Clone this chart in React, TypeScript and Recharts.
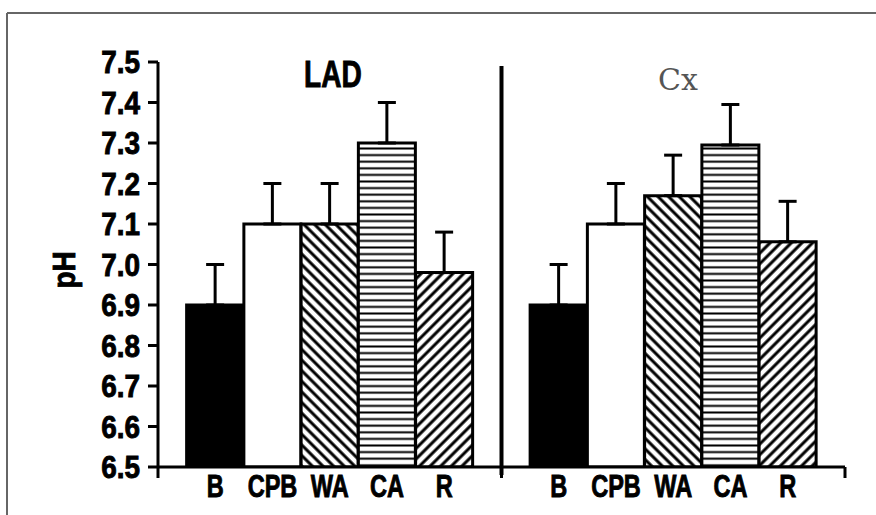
import React from "react";
import {
  BarChart,
  Bar,
  XAxis,
  YAxis,
  Cell,
  ErrorBar,
  ReferenceLine,
  Customized,
} from "recharts";

// groups and bar categories
const groups = ["LAD", "Cx"];
const categories = ["B", "CPB", "WA", "CA", "R"];

// pH means and SEM (upper bar only)
const ladValues = [6.9, 7.1, 7.1, 7.3, 6.98];
const ladErrors = [0.1, 0.1, 0.1, 0.1, 0.1];
const cxValues = [6.9, 7.1, 7.17, 7.295, 7.056];
const cxErrors = [0.1, 0.1, 0.1, 0.1, 0.1];

const yTicks = [6.5, 6.6, 6.7, 6.8, 6.9, 7.0, 7.1, 7.2, 7.3, 7.4, 7.5];

const fills = ["#000", "#fff", "url(#hatchBack)", "url(#hatchHoriz)", "url(#hatchFwd)"];

// slots: 0.5 pad, 5 LAD bars, 1 gap, 5 Cx bars, 0.5 pad
const data = [
  ...categories.map((c, i) => ({
    pos: i + 1,
    cat: c,
    value: ladValues[i],
    err: [0, ladErrors[i]],
  })),
  ...categories.map((c, i) => ({
    pos: i + 7,
    cat: c,
    value: cxValues[i],
    err: [0, cxErrors[i]],
  })),
];

const xTicks = [0, 1, 2, 3, 4, 5, 6, 7, 8, 9, 10, 11, 12];
const boundaryTicks = [0, 6, 12];

// no condensed font installed, so squeeze Liberation Sans bold and thicken it a bit
const heavyFont = "'Liberation Sans', Arial, sans-serif";
const heavyText = {
  fontFamily: heavyFont,
  fontWeight: "bold" as const,
  fill: "#000",
  stroke: "#000",
  strokeWidth: 0.9,
};

const XTick = ({ x, y, payload }: any) => {
  const v = payload.value;
  if (boundaryTicks.includes(v)) {
    return <line x1={x} y1={y} x2={x} y2={y + 11} stroke="#000" strokeWidth={3} />;
  }
  const entry = data.find((d) => d.pos === v);
  return (
    <text
      transform={`translate(${x},${y + 30}) scale(0.76,1)`}
      textAnchor="middle"
      fontSize={31}
      {...heavyText}
    >
      {entry ? entry.cat : ""}
    </text>
  );
};

const YTick = ({ x, y, payload }: any) => (
  <text
    transform={`translate(${x},${y}) scale(0.9,1)`}
    textAnchor="end"
    dy="0.36em"
    fontSize={31}
    {...heavyText}
  >
    {Number(payload.value).toFixed(1)}
  </text>
);

const Decorations = () => (
  <g>
    {/* frame of the scanned figure */}
    <line x1={7} y1={13} x2={876} y2={13} stroke="#666" strokeWidth={2} />
    <line x1={7} y1={13} x2={7} y2={515} stroke="#666" strokeWidth={2} />
    <text transform="translate(333,87) scale(0.76,1)" textAnchor="middle" fontSize={37} {...heavyText}>
      {groups[0]}
    </text>
    <text
      x={678}
      y={90}
      textAnchor="middle"
      fontFamily="'DejaVu Serif', 'Liberation Serif', serif"
      fontSize={30}
      fill="#555"
    >
      {groups[1]}
    </text>
    <text
      transform="translate(64,270) rotate(-90) scale(0.9,1)"
      textAnchor="middle"
      dominantBaseline="central"
      fontSize={31}
      {...heavyText}
    >
      pH
    </text>
  </g>
);

export default function App() {
  return (
    <div style={{ position: "absolute", left: 0, top: 0, width: 876, height: 515, background: "#fff" }}>
      <BarChart
        width={876}
        height={515}
        data={data}
        margin={{ top: 62, right: 31, bottom: 0, left: 0 }}
      >
        <defs>
          <pattern id="hatchBack" patternUnits="userSpaceOnUse" width={7.5} height={7.5} patternTransform="rotate(-45)">
            <rect width={7.5} height={7.5} fill="#fff" />
            <line x1={3.75} y1={0} x2={3.75} y2={7.5} stroke="#000" strokeWidth={3} />
          </pattern>
          <pattern id="hatchFwd" patternUnits="userSpaceOnUse" width={7.5} height={7.5} patternTransform="rotate(45)">
            <rect width={7.5} height={7.5} fill="#fff" />
            <line x1={3.75} y1={0} x2={3.75} y2={7.5} stroke="#000" strokeWidth={3} />
          </pattern>
          <pattern id="hatchHoriz" patternUnits="userSpaceOnUse" width={10} height={6.6}>
            <rect width={10} height={6.6} fill="#fff" />
            <line x1={0} y1={3.3} x2={10} y2={3.3} stroke="#000" strokeWidth={2} />
          </pattern>
        </defs>
        <XAxis
          dataKey="pos"
          type="number"
          domain={[0, 12]}
          ticks={xTicks}
          interval={0}
          height={48}
          tickSize={0}
          tickMargin={0}
          tickLine={false}
          axisLine={{ stroke: "#000", strokeWidth: 3 }}
          tick={<XTick />}
        />
        <YAxis
          domain={[6.5, 7.5]}
          ticks={yTicks}
          interval={0}
          allowDataOverflow
          width={158}
          tickSize={10}
          tickMargin={8}
          axisLine={{ stroke: "#000", strokeWidth: 3 }}
          tickLine={{ stroke: "#000", strokeWidth: 3 }}
          tick={<YTick />}
        />
        <ReferenceLine
          segment={[
            { x: 6, y: 6.48 },
            { x: 6, y: 7.49 },
          ]}
          ifOverflow="visible"
          stroke="#000"
          strokeWidth={4}
        />
        <Bar dataKey="value" barSize={57} stroke="#000" strokeWidth={3} isAnimationActive={false}>
          {data.map((d, i) => (
            <Cell key={i} fill={fills[categories.indexOf(d.cat)]} />
          ))}
          <ErrorBar dataKey="err" direction="y" width={9} stroke="#000" strokeWidth={3} isAnimationActive={false} />
        </Bar>
        <Customized component={Decorations} />
      </BarChart>
    </div>
  );
}
